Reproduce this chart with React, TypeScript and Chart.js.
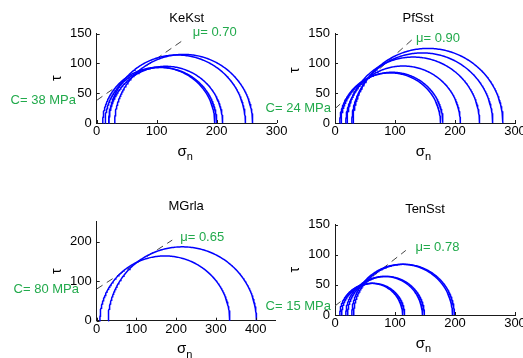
import React, { useEffect, useRef } from "react";
import { Chart, registerables } from "chart.js";
Chart.register(...registerables);

// ---------- data ----------
const panelNames = ["KeKst", "PfSst", "MGrla", "TenSst"];

// minimum / maximum principal stress of each Mohr circle (MPa)
const keKstSigma3 = [10, 14, 20, 20, 30];
const keKstSigma1 = [197, 200, 210, 248, 260];
const pfSstSigma3 = [8, 10, 18, 20, 28, 30];
const pfSstSigma1 = [176, 180, 209, 241, 263, 280];
const mGrlaSigma3 = [8, 29];
const mGrlaSigma1 = [335, 402];
const tenSstSigma3 = [8, 11, 18, 21, 28, 31];
const tenSstSigma1 = [113, 116, 146, 149, 196, 199];

// failure envelope: cohesion C (MPa), friction coefficient mu, extent of drawn line (sigma_n)
const cohesion = [38, 24, 80, 15];
const friction = [0.7, 0.9, 0.65, 0.78];
const envelopeEnd = [147, 131, 190, 118];
const muLabels = ["0.70", "0.90", "0.65", "0.78"];

// axis ranges
const xMaxes = [300, 300, 450, 300];
const yMaxes = [150, 150, 250, 150];
const xSteps = [100, 100, 100, 100];
const ySteps = [50, 50, 100, 50];

// ---------- layout / style ----------
const W = 523;
const H = 358;
const YW = 30;
const XH = 20;
const FONT = "'Liberation Sans', Arial, Helvetica, sans-serif";
const GREEN = "rgb(34,170,76)";
const AXIS = "#1a1a1a";

const layouts = [
  { l: 96.7, t: 33.5, r: 276.7, b: 123, titleDx: 0, tauDy: 0, cDx: -20.7, muAt: [160, 151] },
  { l: 335, t: 33.5, r: 515, b: 123, titleDx: -7, tauDy: -8, cDx: -4, muAt: [135, 141] },
  { l: 96.7, t: 221.7, r: 275.6, b: 320.7, titleDx: 0, tauDy: 0, cDx: -17.7, muAt: [210, 211] },
  { l: 335, t: 224.5, r: 515, b: 315, titleDx: 0, tauDy: 0, cDx: -4, muAt: [134, 112] },
];

const sigma3s = [keKstSigma3, pfSstSigma3, mGrlaSigma3, tenSstSigma3];
const sigma1s = [keKstSigma1, pfSstSigma1, mGrlaSigma1, tenSstSigma1];

function Panel({ idx }: { idx: number }) {
  const ref = useRef<HTMLCanvasElement>(null);
  useEffect(() => {
    const canvas = ref.current!;
    const lay = layouts[idx];
    const s3 = sigma3s[idx];
    const s1 = sigma1s[idx];
    const C = cohesion[idx];
    const mu = friction[idx];
    const end = envelopeEnd[idx];

    const datasets: any[] = s3.map((lo, i) => {
      const hi = s1[i];
      const c = (hi + lo) / 2;
      const r = (hi - lo) / 2;
      const pts: { x: number; y: number }[] = [];
      for (let k = 0; k <= 180; k++) {
        const a = (Math.PI * k) / 180;
        pts.push({ x: c - r * Math.cos(a), y: r * Math.sin(a) });
      }
      return {
        data: pts,
        borderColor: "#0000ff",
        borderWidth: 1.5,
        pointRadius: 0,
        showLine: true,
        fill: false,
        tension: 0,
        clip: 2,
      };
    });
    datasets.push({
      data: [
        { x: 0, y: C },
        { x: end, y: C + mu * end },
      ],
      borderColor: "#444444",
      borderWidth: 1,
      borderDash: [7, 5],
      pointRadius: 0,
      showLine: true,
      fill: false,
    });

    const fit = (s: any, isY: boolean) => {
      if (isY) s.width = YW;
      else s.height = XH;
      s.paddingLeft = 0;
      s.paddingRight = 0;
      s.paddingTop = 0;
      s.paddingBottom = 0;
    };

    const annot = {
      id: "annot" + idx,
      afterDraw(chart: any) {
        const ctx = chart.ctx as CanvasRenderingContext2D;
        const xs = chart.scales.x;
        const ys = chart.scales.y;
        const { left, right, top, bottom } = chart.chartArea;
        ctx.save();
        // inward ticks
        ctx.strokeStyle = AXIS;
        ctx.lineWidth = 1;
        ctx.beginPath();
        xs.ticks.forEach((t: any) => {
          const px = Math.round(xs.getPixelForValue(t.value)) + 0.5;
          ctx.moveTo(px, bottom);
          ctx.lineTo(px, bottom - 3);
        });
        ys.ticks.forEach((t: any) => {
          const py = Math.round(ys.getPixelForValue(t.value)) + 0.5;
          ctx.moveTo(left, py);
          ctx.lineTo(left + 3, py);
        });
        ctx.stroke();

        // title
        ctx.fillStyle = "#000";
        ctx.font = `13px ${FONT}`;
        ctx.textAlign = "center";
        ctx.textBaseline = "middle";
        ctx.fillText(panelNames[idx], (left + right) / 2 + lay.titleDx, top - 15);

        // y title
        ctx.save();
        ctx.translate(left - 40, (top + bottom) / 2 + lay.tauDy);
        ctx.rotate(-Math.PI / 2);
        ctx.font = `14px ${FONT}`;
        ctx.fillText("τ", 0, 0);
        ctx.restore();

        // x title sigma_n
        const cx = (left + right) / 2 - 1;
        ctx.font = `15px ${FONT}`;
        ctx.textAlign = "right";
        ctx.fillText("σ", cx + 1, bottom + 28.5);
        ctx.font = `11px ${FONT}`;
        ctx.textAlign = "left";
        ctx.fillText("n", cx + 1, bottom + 34);

        // labels
        ctx.fillStyle = GREEN;
        ctx.font = `13px ${FONT}`;
        ctx.textAlign = "right";
        ctx.fillText(`C= ${C} MPa`, left + lay.cDx, ys.getPixelForValue(C));
        ctx.textAlign = "left";
        ctx.fillText(
          `μ= ${muLabels[idx]}`,
          xs.getPixelForValue(lay.muAt[0]),
          ys.getPixelForValue(lay.muAt[1])
        );
        ctx.restore();
      },
    };

    const tickFont = { family: FONT, size: 13 };
    const chart = new Chart(canvas, {
      type: "scatter",
      data: { datasets },
      options: {
        animation: false,
        responsive: false,
        devicePixelRatio: 1,
        events: [],
        layout: {
          padding: {
            left: lay.l - YW,
            right: W - lay.r,
            top: lay.t,
            bottom: H - lay.b - XH,
          },
        },
        plugins: {
          legend: { display: false },
          tooltip: { enabled: false },
          title: { display: false },
        },
        scales: {
          x: {
            type: "linear",
            min: 0,
            max: xMaxes[idx],
            ticks: {
              stepSize: xSteps[idx],
              includeBounds: false,
              padding: 1,
              font: tickFont,
              color: "#000",
              maxRotation: 0,
              autoSkip: false,
            },
            grid: { display: false, drawTicks: false },
            border: { display: true, color: AXIS, width: 1 },
            afterFit: (s: any) => fit(s, false),
          },
          y: {
            type: "linear",
            min: 0,
            max: yMaxes[idx],
            ticks: {
              stepSize: ySteps[idx],
              includeBounds: false,
              padding: 5,
              font: tickFont,
              color: "#000",
              autoSkip: false,
            },
            grid: { display: false, drawTicks: false },
            border: { display: true, color: AXIS, width: 1 },
            afterFit: (s: any) => fit(s, true),
          },
        },
      } as any,
      plugins: [annot],
    });
    return () => chart.destroy();
  }, [idx]);
  return (
    <canvas
      ref={ref}
      width={W}
      height={H}
      style={{ position: "absolute", left: 0, top: 0, width: W, height: H }}
    />
  );
}

export default function App() {
  return (
    <div style={{ position: "absolute", left: 0, top: 0, width: W, height: H, background: "#fff" }}>
      {panelNames.map((_, i) => (
        <Panel key={i} idx={i} />
      ))}
    </div>
  );
}
